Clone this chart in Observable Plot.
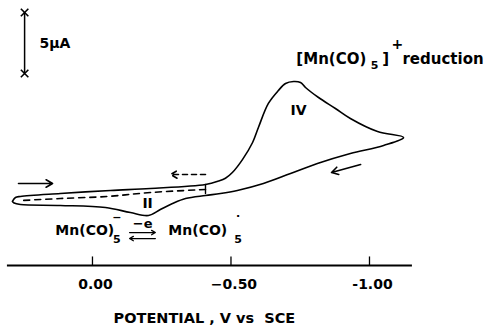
<!DOCTYPE html>
<html>
<head>
<meta charset="utf-8">
<script src="https://cdn.jsdelivr.net/npm/d3@7"></script>
<script src="https://cdn.jsdelivr.net/npm/@observablehq/plot@0.6"></script>
<style>
  html, body { margin: 0; padding: 0; background: #fff; }
  #chart svg { display: block; }
</style>
</head>
<body>
<div id="chart"></div>
<script>
// Potential (V vs SCE) and current (µA, cathodic up)
const forwardV = [0.289, 0.278, 0.260, 0.116, -0.065, -0.209, -0.408, -0.455, -0.480, -0.505, -0.542, -0.578, -0.599, -0.635, -0.671, -0.697, -0.726, -0.751, -0.769, -0.816, -0.877, -0.931, -1.029, -1.123];
const forwardI = [5.25, 5.57, 5.66, 5.90, 6.15, 6.31, 6.64, 6.92, 7.15, 7.62, 8.70, 10.08, 11.31, 13.28, 14.34, 14.92, 15.08, 15.00, 14.59, 13.77, 12.87, 12.05, 10.98, 10.49];
const returnV = [-1.123, -1.051, -0.931, -0.812, -0.715, -0.617, -0.523, -0.462, -0.408, -0.336, -0.289, -0.245, -0.202, -0.137, -0.047, 0.116, 0.260, 0.283, 0.289];
const returnI = [10.49, 9.84, 9.18, 8.36, 7.54, 6.72, 6.15, 5.90, 5.74, 5.49, 5.08, 4.59, 4.10, 4.34, 4.75, 4.92, 5.00, 5.12, 5.25];
// second scan, switched at -0.41 V (dashed return)
const switchV = [-0.408, -0.408];
const switchI = [6.64, 5.90];
const dashedV = [-0.408, -0.209, -0.054, 0.116, 0.253];
const dashedI = [6.23, 5.98, 5.66, 5.49, 5.33];

const tickValues = [0, -0.5, -1.0];
const tickLabels = ["0.00", "\u22120.50", "-1.00"];
const axisExtent = [0.307, -1.155];
const scaleBarV = 0.245;
const scaleBarI = [15.74, 20.74];

const fwd = forwardV.map((v, k) => ({v, i: forwardI[k]}));
const ret = returnV.map((v, k) => ({v, i: returnI[k]}));
const solid = fwd.concat(ret.slice(1));
const sw = switchV.map((v, k) => ({v, i: switchI[k]}));
const dash = dashedV.map((v, k) => ({v, i: dashedI[k]}));

const F = "DejaVu Sans, sans-serif";
const txt = (data, opts) => Plot.text(data, {x: "v", y: "i", text: "t", fontFamily: F, fontWeight: "bold", fill: "black", ...opts});

const chart = Plot.plot({
  width: 486,
  height: 331,
  margin: 0,
  x: {domain: [0.332, -1.4224], range: [0, 486], axis: null},
  y: {domain: [-5.41, 21.72], range: [331, 0], axis: null},
  style: {background: "#fff"},
  marks: [
    // axis
    Plot.ruleY([0], {x1: axisExtent[0], x2: axisExtent[1], stroke: "black", strokeWidth: 1.8}),
    Plot.ruleX(tickValues, {y1: 0, y2: 0.7, stroke: "black", strokeWidth: 1.3}),
    Plot.text(tickValues, {x: d => d, y: -1.56, text: (d, k) => tickLabels[k], dx: 3, fontFamily: F, fontWeight: "bold", fontSize: 14, fill: "black"}),
    Plot.text(["POTENTIAL , V vs  SCE"], {x: -0.404, y: -4.34, text: d => d, fontFamily: F, fontWeight: "bold", fontSize: 14.5, fill: "black"}),
    // scale bar
    Plot.ruleX([scaleBarV], {y1: scaleBarI[0], y2: scaleBarI[1], stroke: "black", strokeWidth: 1.5}),
    Plot.dot(scaleBarI, {x: scaleBarV, y: d => d, symbol: "times", r: 3.5, stroke: "black", strokeWidth: 1.6}),
    txt([{v: 0.191, i: 18.2, t: "5\u03bcA"}], {textAnchor: "start", fontSize: 14}),
    // voltammograms
    Plot.line(solid, {x: "v", y: "i", curve: "catmull-rom", stroke: "black", strokeWidth: 1.6}),
    Plot.line(sw, {x: "v", y: "i", stroke: "black", strokeWidth: 1.4}),
    Plot.line(dash, {x: "v", y: "i", curve: "catmull-rom", stroke: "black", strokeWidth: 1.6, strokeDasharray: "6,5"}),
    // scan direction arrows
    Plot.arrow([{x1: 0.267, x2: 0.144, y1: 6.72, y2: 6.72}], {x1: "x1", x2: "x2", y1: "y1", y2: "y2", stroke: "black", strokeWidth: 1.6, headLength: 7}),
    Plot.arrow([{x1: -0.408, x2: -0.282, y1: 7.46, y2: 7.46}], {x1: "x1", x2: "x2", y1: "y1", y2: "y2", stroke: "black", strokeWidth: 1.6, headLength: 7, strokeDasharray: "5,4"}),
    Plot.arrow([{x1: -0.968, x2: -0.863, y1: 8.28, y2: 7.62}], {x1: "x1", x2: "x2", y1: "y1", y2: "y2", stroke: "black", strokeWidth: 1.6, headLength: 7}),
    // peak labels
    txt([{v: -0.744, i: 12.7, t: "IV"}, {v: -0.199, i: 5.08, t: "II"}], {fontSize: 14}),
    // [Mn(CO)5]+ reduction
    txt([{v: -0.736, i: 16.9, t: "[Mn(CO)"}], {textAnchor: "start", fontSize: 15}),
    txt([{v: -1.018, i: 16.4, t: "5"}], {fontSize: 11}),
    txt([{v: -1.046, i: 16.9, t: "]"}], {textAnchor: "start", fontSize: 15}),
    txt([{v: -1.101, i: 18.1, t: "+"}], {fontSize: 14}),
    txt([{v: -1.119, i: 16.9, t: "reduction"}], {textAnchor: "start", fontSize: 15}),
    // Mn(CO)5- <=> Mn(CO)5.
    txt([{v: 0.134, i: 2.87, t: "Mn(CO)"}, {v: -0.274, i: 2.87, t: "Mn(CO)"}], {textAnchor: "start", fontSize: 14}),
    txt([{v: -0.088, i: 2.13, t: "5"}, {v: -0.526, i: 2.13, t: "5"}], {fontSize: 11}),
    txt([{v: -0.088, i: 3.93, t: "\u2212"}, {v: -0.526, i: 4.0, t: "\u00b7"}], {fontSize: 11}),
    txt([{v: -0.181, i: 3.44, t: "\u2212e"}], {fontSize: 13}),
    Plot.arrow([{x1: -0.134, x2: -0.227, y1: 2.70, y2: 2.70}, {x1: -0.227, x2: -0.134, y1: 2.21, y2: 2.21}], {x1: "x1", x2: "x2", y1: "y1", y2: "y2", stroke: "black", strokeWidth: 1.3, headLength: 5})
  ]
});
document.getElementById("chart").append(chart);
</script>
</body>
</html>
